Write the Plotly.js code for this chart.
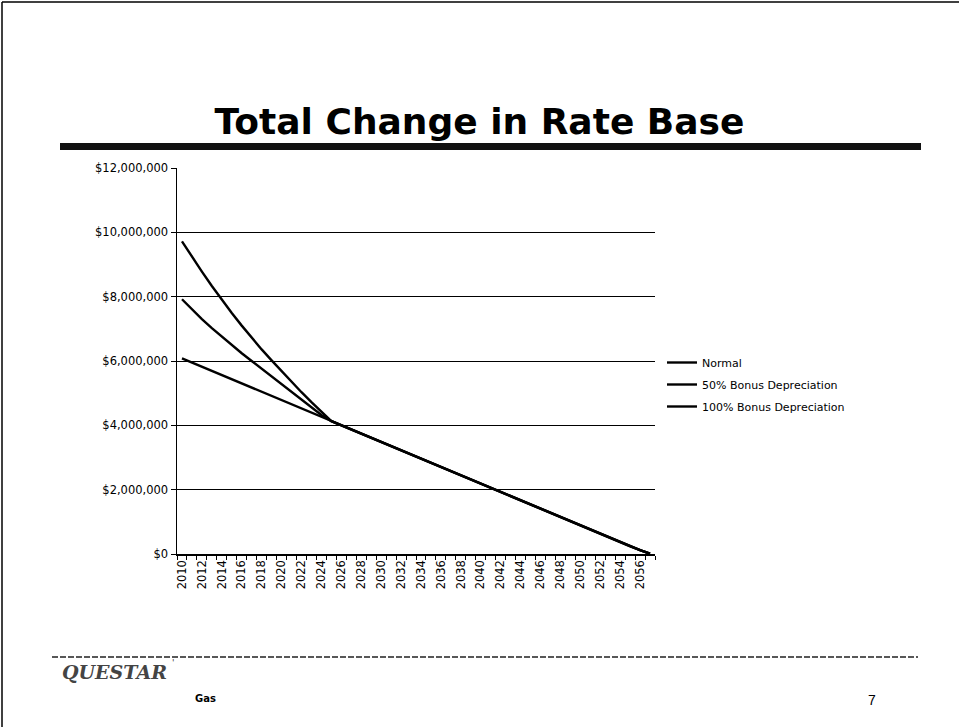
<!DOCTYPE html>
<html>
<head>
<meta charset="utf-8">
<script src="https://cdn.plot.ly/plotly-3.0.1.min.js"></script>
<style>
html,body{margin:0;padding:0;background:#fff;}
#chart{width:959px;height:727px;}
</style>
</head>
<body>
<div id="chart"></div>
<script>
// Categories (years)
var years = [2010,2011,2012,2013,2014,2015,2016,2017,2018,2019,2020,2021,2022,2023,2024,2025,2026,2027,2028,2029,2030,2031,2032,2033,2034,2035,2036,2037,2038,2039,2040,2041,2042,2043,2044,2045,2046,2047,2048,2049,2050,2051,2052,2053,2054,2055,2056,2057];

// Series values (dollars, millions)
var normal = [6.08,5.95,5.82,5.69,5.56,5.43,5.30,5.17,5.04,4.91,4.78,4.65,4.52,4.39,4.26,4.13,4.00,3.87,3.74,3.61,3.48,3.35,3.22,3.09,2.96,2.83,2.70,2.57,2.44,2.31,2.18,2.05,1.92,1.79,1.66,1.53,1.40,1.27,1.14,1.01,0.88,0.75,0.62,0.49,0.36,0.24,0.12,0.01];
var bonus50 = [7.92,7.60,7.30,7.02,6.75,6.49,6.24,6.00,5.76,5.52,5.28,5.04,4.80,4.56,4.32,4.13,4.00,3.87,3.74,3.61,3.48,3.35,3.22,3.09,2.96,2.83,2.70,2.57,2.44,2.31,2.18,2.05,1.92,1.79,1.66,1.53,1.40,1.27,1.14,1.01,0.88,0.75,0.62,0.49,0.36,0.24,0.12,0.01];
var bonus100 = [9.72,9.24,8.78,8.33,7.90,7.49,7.10,6.72,6.36,6.02,5.68,5.35,5.03,4.72,4.42,4.13,4.00,3.87,3.74,3.61,3.48,3.35,3.22,3.09,2.96,2.83,2.70,2.57,2.44,2.31,2.18,2.05,1.92,1.79,1.66,1.53,1.40,1.27,1.14,1.01,0.88,0.75,0.62,0.49,0.36,0.24,0.12,0.01];

var seriesNames = ["Normal", "50% Bonus Depreciation", "100% Bonus Depreciation"];
var titleText = "Total Change in Rate Base";

function toDollars(a){ return a.map(function(v){ return v * 1000000; }); }

// plot area in pixels
var L = 177, R = 655, T = 168, B = 554;
var W = 959, H = 727;
function xp(px){ return (px - L) / (R - L); }
function yp(py){ return (B - py) / (B - T); }

var tickFont = {family: "DejaVu Sans, Arial, sans-serif", size: 11.5, color: "#000"};

var lineStyle = {color: "#000", width: 2.4};
var traces = [normal, bonus50, bonus100].map(function(s, i){
  return {
    x: years, y: toDollars(s), type: "scatter", mode: "lines",
    name: seriesNames[i], legendgroup: "g" + i,
    line: lineStyle, hoverinfo: "x+y"
  };
});

var layout = {
  width: W, height: H,
  paper_bgcolor: "#fff", plot_bgcolor: "#fff",
  margin: {l: L, r: W - R, t: T, b: H - B, pad: 0},
  title: {
    text: "<b>" + titleText + "</b>",
    font: {family: "DejaVu Sans, Arial, sans-serif", size: 36, color: "#000"},
    x: 0.5, xanchor: "center", xref: "container",
    y: 1 - 121 / H, yanchor: "middle", yref: "container"
  },
  showlegend: true,
  legend: {
    x: xp(662), xanchor: "left", y: yp(348), yanchor: "top",
    font: {family: "DejaVu Sans, Arial, sans-serif", size: 11, color: "#000"},
    bgcolor: "rgba(0,0,0,0)", borderwidth: 0, tracegroupgap: 3
  },
  xaxis: {
    type: "linear", range: [2009.5, 2057.5],
    tickmode: "linear", tick0: 2010, dtick: 2,
    tickformat: "d", tickangle: -90, ticks: "",
    tickfont: tickFont,
    showgrid: false, zeroline: false,
    showline: true, linecolor: "#000", linewidth: 1.5,
    minor: {tick0: 2009.5, dtick: 1, ticks: "outside", ticklen: 4, tickcolor: "#000", tickwidth: 1, showgrid: false},
    fixedrange: true
  },
  yaxis: {
    range: [0, 12000000], tickmode: "linear", tick0: 0, dtick: 2000000,
    tickformat: "$,.0f", tickfont: tickFont,
    ticks: "outside", ticklen: 5, tickcolor: "#000",
    showgrid: true, gridcolor: "#000", gridwidth: 1,
    zeroline: false, showline: true, linecolor: "#000", linewidth: 1.5,
    fixedrange: true
  },
  shapes: [
    // slide frame
    {type: "line", xref: "paper", yref: "paper", x0: xp(2), x1: xp(959), y0: yp(2), y1: yp(2), line: {color: "#000", width: 1.5}},
    {type: "line", xref: "paper", yref: "paper", x0: xp(2), x1: xp(2), y0: yp(2), y1: yp(727), line: {color: "#000", width: 1.5}},
    // title bar
    {type: "rect", xref: "paper", yref: "paper", x0: xp(60), x1: xp(921), y0: yp(143), y1: yp(150), fillcolor: "#111", line: {width: 0}},
    // footer line
    {type: "line", xref: "paper", yref: "paper", x0: xp(52), x1: xp(918), y0: yp(657), y1: yp(657), line: {color: "#222", width: 1.5, dash: "6px,2px"}}
  ],
  annotations: [
    {text: "<b><i>QUESTAR</i></b>", xref: "paper", yref: "paper", x: xp(60), y: yp(672), xanchor: "left", yanchor: "middle",
     showarrow: false, font: {family: "DejaVu Serif, serif", size: 19, color: "#444"}},
    {text: "'", xref: "paper", yref: "paper", x: xp(170), y: yp(663), xanchor: "left", yanchor: "middle",
     showarrow: false, font: {family: "DejaVu Sans, sans-serif", size: 9, color: "#444"}},
    {text: "<b>Gas</b>", xref: "paper", yref: "paper", x: xp(193), y: yp(698), xanchor: "left", yanchor: "middle",
     showarrow: false, font: {family: "DejaVu Sans, Arial, sans-serif", size: 10, color: "#000"}},
    {text: "7", xref: "paper", yref: "paper", x: xp(872), y: yp(700), xanchor: "center", yanchor: "middle",
     showarrow: false, font: {family: "Liberation Sans, Arial, sans-serif", size: 14, color: "#000"}}
  ]
};

Plotly.newPlot("chart", traces, layout, {displayModeBar: false, staticPlot: true});
</script>
</body>
</html>
